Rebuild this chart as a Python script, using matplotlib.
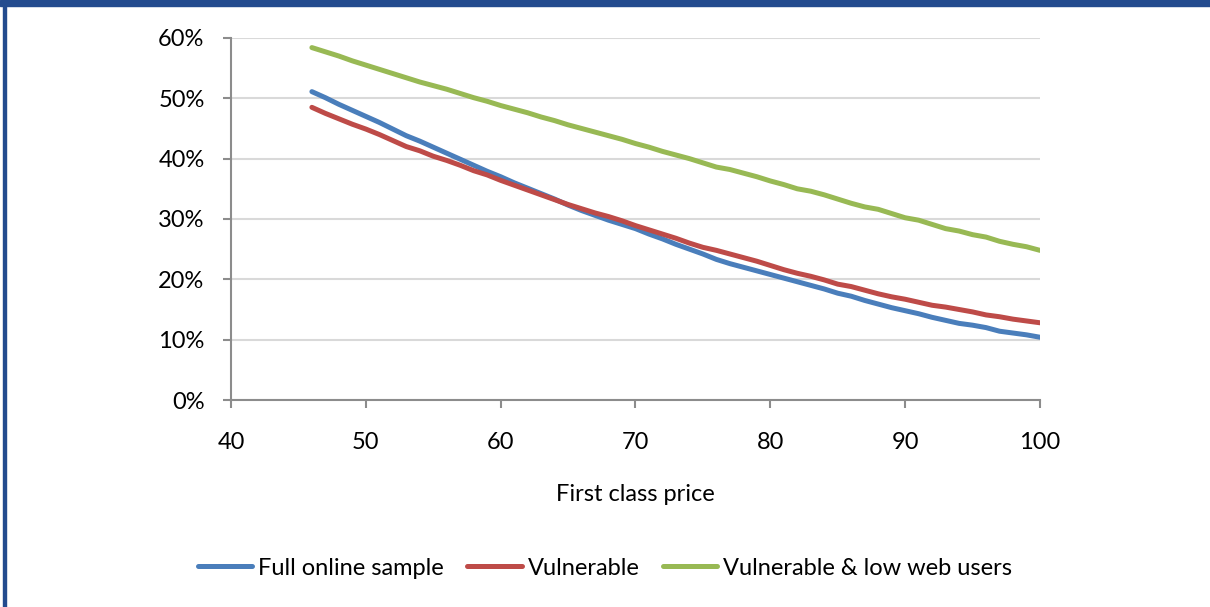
import matplotlib
matplotlib.use("Agg")
import matplotlib.pyplot as plt
from matplotlib.patches import Rectangle
from matplotlib.ticker import FuncFormatter

plt.rcParams['font.family'] = ['Lato', 'DejaVu Sans']

# first class price points
price = list(range(46, 101))

full_online = [51.1, 50.1, 49.0, 48.0, 47.0, 46.0, 44.9, 43.8, 42.9, 41.9,
               40.9, 39.9, 38.9, 37.9, 37.0, 36.0, 35.1, 34.2, 33.3, 32.3,
               31.4, 30.6, 29.8, 29.1, 28.4, 27.5, 26.7, 25.8, 25.0, 24.2,
               23.3, 22.6, 22.0, 21.4, 20.8, 20.2, 19.6, 19.0, 18.4, 17.7,
               17.2, 16.5, 15.9, 15.3, 14.8, 14.3, 13.7, 13.2, 12.7, 12.4,
               12.0, 11.4, 11.1, 10.8, 10.4]

vulnerable = [48.5, 47.5, 46.6, 45.7, 44.9, 44.0, 43.0, 42.0, 41.3, 40.4,
              39.7, 38.9, 38.0, 37.3, 36.4, 35.6, 34.8, 34.0, 33.2, 32.4,
              31.7, 31.0, 30.4, 29.7, 28.9, 28.2, 27.5, 26.8, 26.0, 25.3,
              24.8, 24.2, 23.6, 23.0, 22.3, 21.6, 21.0, 20.5, 19.9, 19.2,
              18.8, 18.2, 17.6, 17.1, 16.7, 16.2, 15.7, 15.4, 15.0, 14.6,
              14.1, 13.8, 13.4, 13.1, 12.8]

vuln_low_web = [58.4, 57.7, 57.0, 56.2, 55.5, 54.8, 54.1, 53.4, 52.7, 52.1,
                51.5, 50.8, 50.1, 49.5, 48.8, 48.2, 47.6, 46.9, 46.3, 45.6,
                45.0, 44.4, 43.8, 43.2, 42.5, 41.9, 41.2, 40.6, 40.0, 39.3,
                38.6, 38.2, 37.6, 37.0, 36.3, 35.7, 35.0, 34.6, 34.0, 33.3,
                32.6, 32.0, 31.6, 30.9, 30.2, 29.8, 29.1, 28.4, 28.0, 27.4,
                27.0, 26.3, 25.8, 25.4, 24.8]

series_names = ['Full online sample', 'Vulnerable', 'Vulnerable & low web users']
colors = ['#4A7EBB', '#BE4B48', '#98B954']

fig = plt.figure(figsize=(12.1, 6.07), dpi=100)
ax = fig.add_axes([0.1909, 0.341, 0.6686, 0.5965])

for vals, name, c in zip([full_online, vulnerable, vuln_low_web], series_names, colors):
    ax.plot(price, vals, color=c, lw=3.6, label=name, solid_capstyle='round')

ax.set_xlim(40, 100)
ax.set_ylim(0, 60)
ax.set_xticks(range(40, 101, 10))
ax.set_yticks(range(0, 61, 10))
ax.yaxis.set_major_formatter(FuncFormatter(lambda v, p: '%d%%' % v))

ax.grid(axis='y', color='#d9d9d9', lw=1.5)
ax.set_axisbelow(True)
for s in ['top', 'right']:
    ax.spines[s].set_visible(False)
for s in ['left', 'bottom']:
    ax.spines[s].set_color('#8c8c8c')
    ax.spines[s].set_linewidth(1.5)
ax.tick_params(axis='both', colors='#8c8c8c', length=6, width=1.5, labelcolor='black', labelsize=17)
ax.tick_params(axis='y', pad=13)
ax.tick_params(axis='x', pad=17)

ax.set_xlabel('First class price', fontsize=17, labelpad=22)

fig.legend(loc='center', bbox_to_anchor=(0.5, 0.064), ncol=3, frameon=False,
           fontsize=17, handlelength=2.3, handletextpad=0.25, columnspacing=1.0)

# frame bits in dark blue
fig.patches.append(Rectangle((0, 1 - 6 / 607), 1, 6 / 607, transform=fig.transFigure,
                             color='#234B8E', zorder=10))
fig.patches.append(Rectangle((3 / 1210, 0), 2.5 / 1210, 1, transform=fig.transFigure,
                             color='#234B8E', zorder=10))

fig.savefig('out.png', dpi=100)
